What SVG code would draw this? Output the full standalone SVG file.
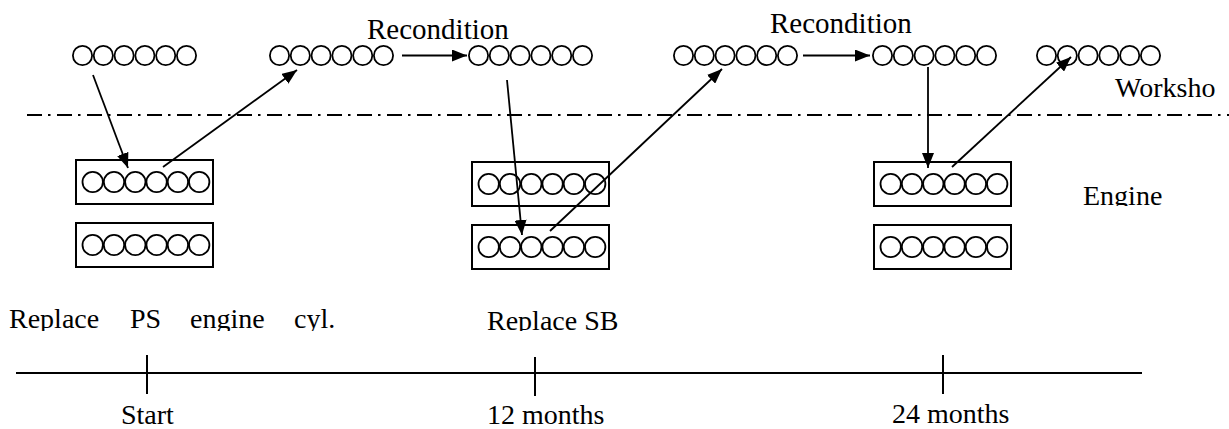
<svg xmlns="http://www.w3.org/2000/svg" width="1229" height="429" viewBox="0 0 1229 429">
<style>
.c{fill:none;stroke:#000;stroke-width:1.8}
.b{fill:none;stroke:#000;stroke-width:2}
.t{font-family:"Liberation Serif","Times New Roman",serif;font-size:28px;fill:#000}
.a{fill:none;stroke:#000;stroke-width:1.8;marker-end:url(#ah)}
.l{stroke:#000;stroke-width:2;fill:none}
</style>
<defs>
<marker id="ah" markerUnits="userSpaceOnUse" markerWidth="15" markerHeight="12" refX="15" refY="6" orient="auto">
<path d="M0,0 L15,6 L0,12 z" fill="#000"/>
</marker>
<g id="row">
<circle class="c" cx="0" cy="0" r="9.6"/><circle class="c" cx="20.8" cy="0" r="9.6"/><circle class="c" cx="41.6" cy="0" r="9.6"/><circle class="c" cx="62.4" cy="0" r="9.6"/><circle class="c" cx="83.2" cy="0" r="9.6"/><circle class="c" cx="104" cy="0" r="9.6"/>
</g>
<g id="eng">
<rect class="b" x="0" y="0" width="137" height="44"/>
<circle class="c" cx="16.7" cy="22" r="10.2"/><circle class="c" cx="38" cy="22" r="10.2"/><circle class="c" cx="59.3" cy="22" r="10.2"/><circle class="c" cx="80.6" cy="22" r="10.2"/><circle class="c" cx="101.9" cy="22" r="10.2"/><circle class="c" cx="123.2" cy="22" r="10.2"/>
</g>
<clipPath id="clipEngine"><rect x="1070" y="170" width="120" height="36"/></clipPath>
<clipPath id="clipBottom"><rect x="0" y="295" width="700" height="36"/></clipPath>
</defs>
<rect width="1229" height="429" fill="#fff"/>

<g id="workshop-line">
<line x1="27" y1="115" x2="1229" y2="115" stroke="#000" stroke-width="1.8" stroke-dasharray="15 6 2.5 6.5"/>
</g>

<g id="ws1"><use href="#row" x="82.5" y="55.5"/></g>
<g id="ws2"><use href="#row" x="279.5" y="55.5"/></g>
<g id="ws3"><use href="#row" x="478.5" y="55.5"/></g>
<g id="ws4"><use href="#row" x="683.5" y="55.5"/></g>
<g id="ws5"><use href="#row" x="882.5" y="55.5"/></g>
<g id="ws6"><use href="#row" x="1046.5" y="55.5"/></g>

<g id="engA1"><use href="#eng" x="76" y="160"/></g>
<g id="engA2"><use href="#eng" x="76" y="223"/></g>
<g id="engB1"><use href="#eng" x="472" y="162"/></g>
<g id="engB2"><use href="#eng" x="472" y="225"/></g>
<g id="engC1"><use href="#eng" x="874" y="162"/></g>
<g id="engC2"><use href="#eng" x="874" y="225"/></g>

<g id="connectors">
<line class="a" x1="93" y1="75" x2="128" y2="168"/>
<line class="a" x1="163" y1="167" x2="297" y2="70"/>
<line class="a" x1="402" y1="55.5" x2="467" y2="55.5"/>
<line class="a" x1="507" y1="80" x2="522" y2="235"/>
<line class="a" x1="550" y1="231" x2="722" y2="69"/>
<line class="a" x1="803" y1="55.5" x2="870" y2="55.5"/>
<line class="a" x1="928" y1="67" x2="928" y2="168"/>
<line class="a" x1="952" y1="167" x2="1071" y2="57"/>
</g>

<g id="labels">
<text class="t" x="367" y="39" style="font-size:29px">Recondition</text>
<text class="t" x="770" y="33" style="font-size:29px">Recondition</text>
<text class="t" x="1115" y="97">Worksho</text>
<text class="t" x="1083" y="205" clip-path="url(#clipEngine)">Engine</text>
<g clip-path="url(#clipBottom)">
<text class="t" y="328"><tspan x="9">Replace</tspan><tspan x="130">PS</tspan><tspan x="190">engine</tspan><tspan x="294">cyl.</tspan></text>
<text class="t" x="487" y="330">Replace SB</text>
</g>
</g>

<g id="timeline">
<line class="l" x1="16" y1="373" x2="1142" y2="373"/>
<line class="l" x1="147" y1="355" x2="147" y2="394"/>
<line class="l" x1="535" y1="357" x2="535" y2="396" stroke-width="2.4"/>
<line class="l" x1="943" y1="355" x2="943" y2="394"/>
<text class="t" x="121" y="424">Start</text>
<text class="t" x="487" y="424">12 months</text>
<text class="t" x="892" y="423">24 months</text>
</g>
</svg>
